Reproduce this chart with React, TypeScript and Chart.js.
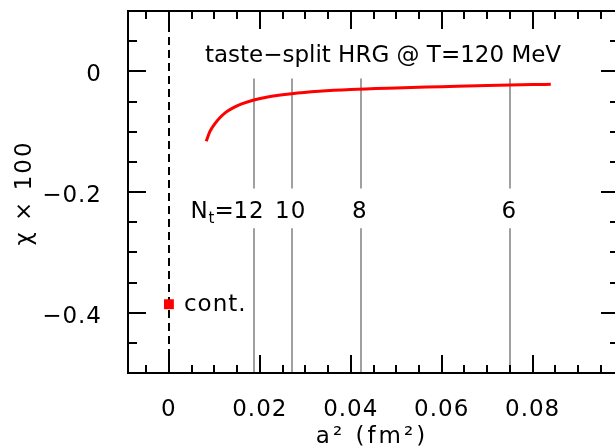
import React, { useEffect, useRef } from 'react';
import { Chart, registerables } from 'chart.js';

Chart.register(...registerables);

// ---- data ----
const curveA2 = [0.0082, 0.009, 0.01, 0.0112, 0.0125, 0.014, 0.016, 0.0189, 0.022, 0.027, 0.033, 0.04, 0.05, 0.06, 0.07, 0.08, 0.084];
const curveChi = [-0.116, -0.1, -0.088, -0.077, -0.068, -0.061, -0.054, -0.047, -0.042, -0.037, -0.033, -0.03, -0.0275, -0.0255, -0.0235, -0.022, -0.0215];
const contA2 = [0];
const contChi = [-0.386];
const ntValues = [12, 10, 8, 6];
const ntA2 = [0.0188, 0.027, 0.0422, 0.0751];
const xTickLabels = [0, 0.02, 0.04, 0.06, 0.08];
const yTickLabels = [0, -0.2, -0.4];
const titleText = 'taste\u2212split HRG @ T=120 MeV';
const xTitle = 'a\u00b2 (fm\u00b2)';
const yTitle = '\u03c7 \u00d7 100';
const contLabel = 'cont.';

const FONT = '"DejaVu Sans", sans-serif';

export default function App() {
  const ref = useRef<HTMLCanvasElement>(null);

  useEffect(() => {
    const canvas = ref.current!;

    const overlay = {
      id: 'overlay',
      beforeDraw(chart: any) {
        chart.ctx.letterSpacing = '1px';
      },
      beforeDatasetsDraw(chart: any) {
        const { ctx, chartArea: ca, scales } = chart;
        const x = scales.x, y = scales.y;
        ctx.save();
        ctx.letterSpacing = '0px';
        // dashed continuum line
        const x0 = Math.round(x.getPixelForValue(contA2[0]));
        ctx.strokeStyle = '#000';
        ctx.lineWidth = 2;
        ctx.setLineDash([8, 5]);
        ctx.beginPath();
        ctx.moveTo(x0, ca.top);
        ctx.lineTo(x0, ca.bottom);
        ctx.stroke();
        ctx.setLineDash([]);
        // grey N_t lines
        ctx.strokeStyle = '#a0a0a0';
        ctx.lineWidth = 2;
        const yTop = y.getPixelForValue(-0.012);
        const yG1 = y.getPixelForValue(-0.194);
        const yG2 = y.getPixelForValue(-0.26);
        ntA2.forEach((a) => {
          const px = Math.round(x.getPixelForValue(a));
          ctx.beginPath();
          ctx.moveTo(px, yTop);
          ctx.lineTo(px, yG1);
          ctx.moveTo(px, yG2);
          ctx.lineTo(px, ca.bottom);
          ctx.stroke();
        });
        ctx.restore();
      },
      afterDraw(chart: any) {
        const { ctx, chartArea: ca, scales } = chart;
        const x = scales.x, y = scales.y;
        ctx.save();
        ctx.letterSpacing = '0px';
        ctx.strokeStyle = '#000';
        ctx.lineWidth = 2;
        // frame
        ctx.strokeRect(ca.left, ca.top, ca.right - ca.left, ca.bottom - ca.top);
        // x ticks (bottom + top, inward)
        ctx.beginPath();
        for (let k = -1; k <= 19; k++) {
          const v = k * 0.005;
          if (v <= x.min || v >= x.max) continue;
          const px = Math.round(x.getPixelForValue(v));
          const len = k % 4 === 0 ? 18 : 8;
          ctx.moveTo(px, ca.bottom);
          ctx.lineTo(px, ca.bottom - len);
          ctx.moveTo(px, ca.top);
          ctx.lineTo(px, ca.top + len);
        }
        // y ticks (left + right, inward)
        for (let k = -9; k <= 1; k++) {
          const v = k * 0.05;
          const py = Math.round(y.getPixelForValue(v));
          const len = k % 4 === 0 ? 18 : 9;
          ctx.moveTo(ca.left, py);
          ctx.lineTo(ca.left + len, py);
          ctx.moveTo(ca.right, py);
          ctx.lineTo(ca.right - len, py);
        }
        ctx.stroke();

        ctx.fillStyle = '#000';
        // title
        ctx.font = '23px ' + FONT;
        ctx.textAlign = 'center';
        ctx.textBaseline = 'alphabetic';
        ctx.fillText(titleText, 383, 62);

        // x title
        ctx.letterSpacing = '3px';
        ctx.textBaseline = 'middle';
        ctx.fillText(xTitle, 372, 437);

        // y title
        ctx.letterSpacing = '2px';
        ctx.save();
        ctx.translate(25, 193);
        ctx.rotate(-Math.PI / 2);
        ctx.fillText(yTitle, 0, 0);
        ctx.restore();

        // N_t labels
        ctx.letterSpacing = '1px';
        ctx.textBaseline = 'alphabetic';
        ntValues.forEach((n, i) => {
          const px = x.getPixelForValue(ntA2[i]);
          if (i === 0) {
            ctx.textAlign = 'left';
            ctx.letterSpacing = '0px';
            ctx.font = '23px ' + FONT;
            ctx.fillText('N', px - 64, 218);
            ctx.font = '15px ' + FONT;
            ctx.fillText('t', px - 46, 223);
            ctx.font = '23px ' + FONT;
            ctx.fillText('=', px - 40, 218);
            ctx.letterSpacing = '1px';
            ctx.fillText(String(n), px - 21, 218);
          } else {
            ctx.textAlign = 'center';
            ctx.font = '23px ' + FONT;
            ctx.fillText(String(n), px - 1, 218);
          }
        });

        // continuum label
        ctx.textAlign = 'left';
        ctx.font = '23px ' + FONT;
        ctx.fillText(contLabel, x.getPixelForValue(contA2[0]) + 15, 311);
        ctx.restore();
      },
    };

    const fmt = (v: number) => (v < 0 ? '\u2212' + String(Math.abs(v)) : String(v));

    const chart = new Chart(canvas, {
      type: 'line',
      data: {
        datasets: [
          {
            label: 'HRG',
            data: curveA2.map((a, i) => ({ x: a, y: curveChi[i] })),
            borderColor: '#ff0000',
            borderWidth: 3,
            pointRadius: 0,
            cubicInterpolationMode: 'monotone',
            fill: false,
          },
          {
            label: 'cont.',
            type: 'scatter',
            data: contA2.map((a, i) => ({ x: a, y: contChi[i] })),
            pointStyle: 'rect',
            pointRadius: 7,
            backgroundColor: '#ff0000',
            borderWidth: 0,
          } as any,
        ],
      },
      options: {
        animation: false,
        responsive: false,
        events: [],
        layout: { padding: { left: 0, top: 11, right: 21, bottom: 0 } },
        plugins: { legend: { display: false }, tooltip: { enabled: false } },
        scales: {
          x: {
            type: 'linear',
            min: -0.009,
            max: 0.099,
            grid: { display: false },
            border: { display: false },
            afterBuildTicks: (s: any) => {
              s.ticks = xTickLabels.map((v) => ({ value: v }));
            },
            afterFit: (s: any) => {
              s.height = 75;
              s.paddingLeft = 0;
              s.paddingRight = 0;
              s.paddingTop = 0;
              s.paddingBottom = 0;
            },
            ticks: {
              color: '#000',
              font: { family: FONT, size: 23 },
              padding: 15,
              maxRotation: 0,
              autoSkip: false,
              callback: (v: any) => fmt(Number(v)),
            },
          },
          y: {
            type: 'linear',
            min: -0.5,
            max: 0.1,
            grid: { display: false },
            border: { display: false },
            afterBuildTicks: (s: any) => {
              s.ticks = yTickLabels.map((v) => ({ value: v }));
            },
            afterFit: (s: any) => {
              s.width = 128;
              s.paddingLeft = 0;
              s.paddingRight = 0;
              s.paddingTop = 0;
              s.paddingBottom = 0;
            },
            ticks: {
              color: '#000',
              font: { family: FONT, size: 23 },
              padding: 18,
              labelOffset: 4,
              autoSkip: false,
              callback: (v: any) => fmt(Number(v)),
            },
          },
        },
      } as any,
      plugins: [overlay],
    });

    return () => chart.destroy();
  }, []);

  return (
    <div style={{ position: 'fixed', left: 0, top: 0, width: 615, height: 448, overflow: 'hidden', background: '#fff' }}>
      <canvas ref={ref} width={640} height={448} style={{ display: 'block', width: 640, height: 448 }} />
    </div>
  );
}
